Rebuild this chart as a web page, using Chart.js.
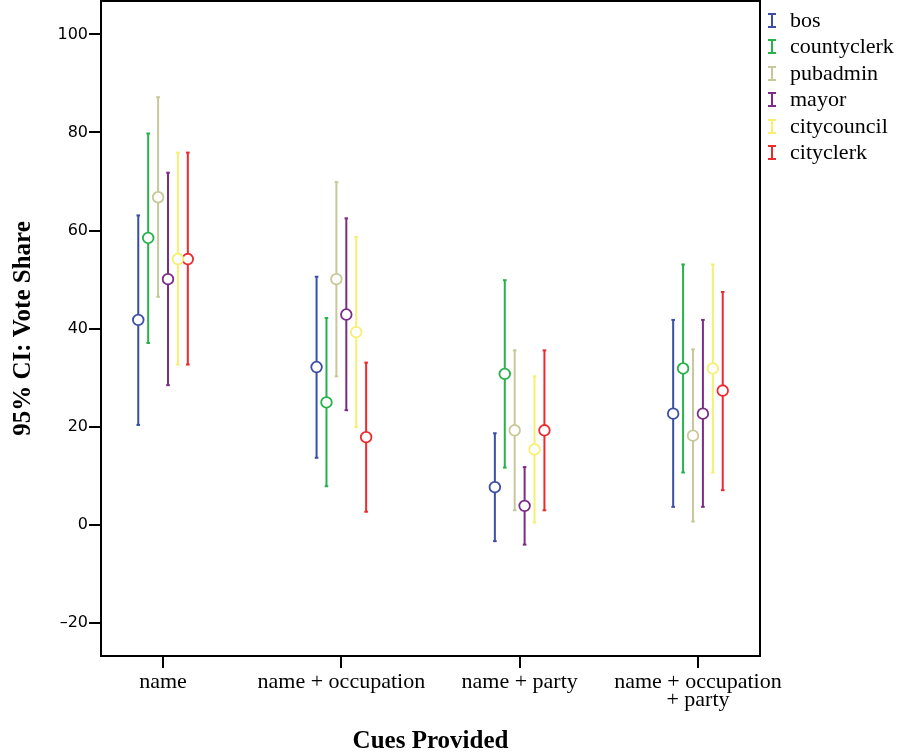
<!DOCTYPE html>
<html>
<head>
<meta charset="utf-8">
<script src="https://cdn.jsdelivr.net/npm/chart.js@4.4.0/dist/chart.umd.min.js"></script>
<style>
  body { margin: 0; background: #fff; }
  #wrap { position: relative; width: 900px; height: 755px; }
  #legend { position: absolute; left: 766px; top: 7px; font-family: "Liberation Serif", serif; font-size: 22px; color: #000; }
  .row { height: 26.4px; line-height: 26.4px; white-space: nowrap; position: relative; padding-left: 24px; }
  .ico { position: absolute; left: 5px; top: 6px; width: 2px; height: 15px; }
  .ico::before, .ico::after { content: ""; position: absolute; left: -3px; width: 8px; height: 2px; background: inherit; }
  .ico::before { top: 0; }
  .ico::after { bottom: 0; }
</style>
</head>
<body>
<div id="wrap">
  <canvas id="chart" width="900" height="755"></canvas>
  <div id="legend"></div>
</div>
<script>
// cue conditions on the x axis
let cues = ["name", "name + occupation", "name + party", ["name + occupation", "+ party"]]
let offices = ["bos", "countyclerk", "pubadmin", "mayor", "citycouncil", "cityclerk"]
let colors = ["#3a4fa5", "#27b24a", "#c8c89a", "#7b2d86", "#f6ef72", "#ef2a2e"]
let yTicks = [-20, 0, 20, 40, 60, 80, 100]

// mean, lower and upper 95% CI per office, one value per cue
let bosMean = [41.8, 32.2, 7.7, 22.7]
let bosLow = [20.4, 13.7, -3.3, 3.7]
let bosHigh = [63.1, 50.6, 18.7, 41.8]

let countyclerkMean = [58.5, 25.0, 30.8, 31.9]
let countyclerkLow = [37.1, 7.9, 11.7, 10.7]
let countyclerkHigh = [79.8, 42.2, 49.9, 53.1]

let pubadminMean = [66.8, 50.1, 19.3, 18.2]
let pubadminLow = [46.5, 30.3, 3.0, 0.7]
let pubadminHigh = [87.2, 69.9, 35.6, 35.8]

let mayorMean = [50.1, 42.9, 3.9, 22.7]
let mayorLow = [28.5, 23.4, -4.0, 3.7]
let mayorHigh = [71.8, 62.5, 11.8, 41.8]

let citycouncilMean = [54.2, 39.3, 15.4, 31.9]
let citycouncilLow = [32.7, 20.0, 0.5, 10.7]
let citycouncilHigh = [75.9, 58.7, 30.3, 53.1]

let cityclerkMean = [54.2, 17.9, 19.3, 27.4]
let cityclerkLow = [32.7, 2.7, 3.0, 7.1]
let cityclerkHigh = [75.9, 33.1, 35.6, 47.5]

let means = [bosMean, countyclerkMean, pubadminMean, mayorMean, citycouncilMean, cityclerkMean]
let lows = [bosLow, countyclerkLow, pubadminLow, mayorLow, citycouncilLow, cityclerkLow]
let highs = [bosHigh, countyclerkHigh, pubadminHigh, mayorHigh, citycouncilHigh, cityclerkHigh]

let step = 0.0556 // gap between offices inside one cue group (x units)

let datasets = []
offices.forEach((office, i) => {
    let off = (i - 2.5) * step
    let bars = []
    cues.forEach((c, j) => { // every interval is its own segment, broken by a null point
        bars.push({ x: j + off, y: lows[i][j] })
        bars.push({ x: j + off, y: highs[i][j] })
        bars.push({ x: j + off, y: null })
    })
    datasets.push({
        label: office + " CI",
        data: bars,
        showLine: true,
        spanGaps: false,
        borderColor: colors[i],
        borderWidth: 2,
        pointStyle: "line",
        pointRadius: 1.8,
        pointBorderWidth: 2,
        pointBorderColor: colors[i],
        order: 2
    })
    datasets.push({
        label: office,
        data: means[i].map((v, j) => ({ x: j + off, y: v })),
        showLine: false,
        pointStyle: "circle",
        pointRadius: 5.3,
        pointBorderWidth: 1.8,
        pointBorderColor: colors[i],
        pointBackgroundColor: "#fff",
        order: 1
    })
})

let frame = {
    id: "frame",
    afterDraw(chart) {
        let a = chart.chartArea
        let ctx = chart.ctx
        ctx.save()
        ctx.strokeStyle = "#000"
        ctx.lineWidth = 2
        ctx.strokeRect(a.left, a.top, a.right - a.left, a.bottom - a.top)
        ctx.restore()
    }
}

new Chart(document.getElementById("chart"), {
    type: "scatter",
    data: { datasets: datasets },
    plugins: [frame],
    options: {
        responsive: false,
        animation: false,
        layout: { autoPadding: false, padding: { top: 1, right: 140, left: 0, bottom: 0 } },
        plugins: { legend: { display: false }, tooltip: { enabled: false } },
        scales: {
            x: {
                type: "linear",
                min: -0.348,
                max: 3.348,
                afterBuildTicks: (s) => { s.ticks = cues.map((c, j) => ({ value: j })) },
                afterFit: (s) => { s.height = 99; s.paddingLeft = 0; s.paddingRight = 0 },
                ticks: {
                    autoSkip: false,
                    maxRotation: 0,
                    color: "#000",
                    padding: 5,
                    font: { family: "Liberation Serif", size: 22, lineHeight: 0.82 },
                    callback: (v) => cues[v]
                },
                grid: { drawOnChartArea: false, drawTicks: true, tickLength: 12, color: "#000", lineWidth: 2 },
                border: { display: true, color: "#000", width: 2 },
                title: {
                    display: true,
                    text: "Cues Provided",
                    color: "#000",
                    font: { family: "Liberation Serif", size: 25, weight: "bold", lineHeight: 1.0 },
                    padding: { top: 0, bottom: 1 }
                }
            },
            y: {
                min: -26.7,
                max: 106.8,
                afterBuildTicks: (s) => { s.ticks = yTicks.map(v => ({ value: v })) },
                afterFit: (s) => { s.width = 101; s.paddingTop = 0; s.paddingBottom = 0 },
                ticks: {
                    color: "#000",
                    padding: 1,
                    font: { family: "DejaVu Sans", size: 16 },
                    callback: (v) => String(v).replace("-", "\u2013")
                },
                grid: { drawOnChartArea: false, drawTicks: true, tickLength: 12, color: "#000", lineWidth: 2 },
                border: { display: true, color: "#000", width: 2 },
                title: {
                    display: true,
                    text: "95% CI: Vote Share",
                    color: "#000",
                    font: { family: "Liberation Serif", size: 25, weight: "bold" },
                    padding: { top: 9, bottom: 0 }
                }
            }
        }
    }
})

let legend = document.getElementById("legend")
offices.forEach((office, i) => {
    let row = document.createElement("div")
    row.className = "row"
    row.innerHTML = `<span class="ico" style="background:${colors[i]}"></span>${office}`
    legend.appendChild(row)
})
</script>
</body>
</html>
